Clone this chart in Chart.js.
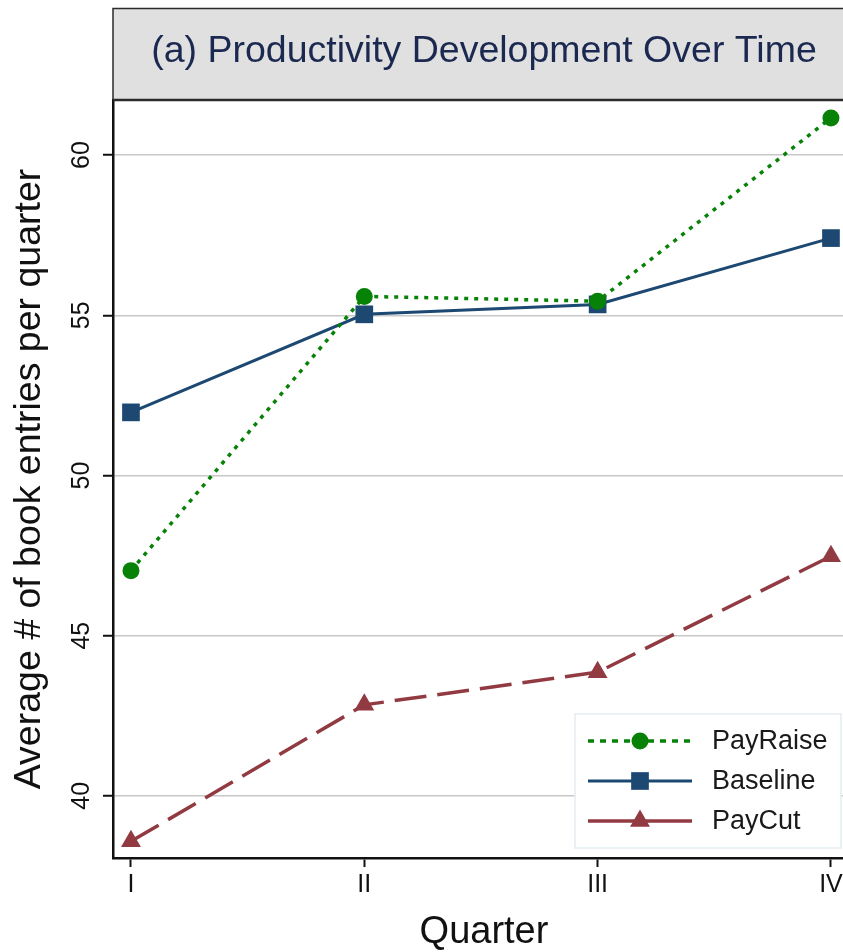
<!DOCTYPE html>
<html>
<head>
<meta charset="utf-8">
<script src="https://cdn.jsdelivr.net/npm/chart.js@4.4.1/dist/chart.umd.min.js"></script>
<style>
    html, body { margin: 0; padding: 0; background: #fff; overflow: hidden; }
    #chart { display: block; }
</style>
</head>
<body>
<canvas id="chart" width="870" height="952"></canvas>
<script>
// Productivity over quarters, three treatment groups

const quarters = ['I', 'II', 'III', 'IV'];
const quarterPos = [0, 1, 2, 3];
const yTicks = [40, 45, 50, 55, 60];

const payRaise = [47.03, 55.59, 55.44, 61.16];
const baseline = [51.97, 55.03, 55.34, 57.41];
const payCut = [38.58, 42.84, 43.86, 47.48];

const FONT = 'Arial, "Liberation Sans", Helvetica, sans-serif';

function toPoints(values) {
    return values.map((v, i) => ({ x: quarterPos[i], y: v }));
}

// grey title box above the plot
const titleBox = {
    id: 'titleBox',
    afterDraw(chart) {
        const ctx = chart.ctx;
        const area = chart.chartArea;
        ctx.save();
        ctx.fillStyle = '#e0e0e0';
        ctx.fillRect(area.left, 8, chart.width - area.left, area.top - 8);
        ctx.strokeStyle = '#2a2a2a';
        ctx.lineWidth = 1.5;
        ctx.beginPath();
        ctx.moveTo(chart.width, 8.5);
        ctx.lineTo(area.left, 8.5);
        ctx.lineTo(area.left, area.top);
        ctx.stroke();
        ctx.lineWidth = 2.5;
        ctx.beginPath();
        ctx.moveTo(area.left, area.top);
        ctx.lineTo(chart.width, area.top);
        ctx.stroke();
        ctx.fillStyle = '#1b2850';
        ctx.font = '37.5px ' + FONT;
        ctx.textAlign = 'center';
        ctx.textBaseline = 'middle';
        ctx.fillText('(a) Productivity Development Over Time', (area.left + area.right) / 2, 52);
        ctx.restore();
    }
};

// y tick labels drawn rotated, like the original
const rotatedYTicks = {
    id: 'rotatedYTicks',
    afterDraw(chart) {
        const ctx = chart.ctx;
        const scale = chart.scales.y;
        ctx.save();
        ctx.fillStyle = '#111';
        ctx.font = '25px ' + FONT;
        ctx.textAlign = 'center';
        ctx.textBaseline = 'middle';
        scale.ticks.forEach(t => {
            const y = scale.getPixelForValue(t.value);
            ctx.save();
            ctx.translate(82, y);
            ctx.rotate(-Math.PI / 2);
            ctx.fillText(String(t.value), 0, 0);
            ctx.restore();
        });
        ctx.restore();
    }
};

// legend box with line + marker samples
const lineLegend = {
    id: 'lineLegend',
    afterDraw(chart) {
        const ctx = chart.ctx;
        const bx = 575, by = 714, bw = 266, bh = 134;
        ctx.save();
        ctx.fillStyle = '#fff';
        ctx.fillRect(bx, by, bw, bh);
        ctx.strokeStyle = '#e3ecf0';
        ctx.lineWidth = 1.5;
        ctx.strokeRect(bx, by, bw, bh);

        chart.data.datasets.forEach((ds, i) => {
            const y = 741 + i * 40;
            ctx.save();
            ctx.strokeStyle = ds.borderColor;
            ctx.lineWidth = ds.borderWidth;
            ctx.setLineDash(ds.legendDash || []);
            ctx.beginPath();
            ctx.moveTo(588, y);
            ctx.lineTo(692, y);
            ctx.stroke();
            ctx.restore();

            ctx.fillStyle = ds.pointBackgroundColor;
            ctx.strokeStyle = ds.pointBorderColor;
            Chart.helpers.drawPoint(ctx, {
                pointStyle: ds.pointStyle,
                radius: ds.pointRadius,
                rotation: 0,
                borderWidth: 0
            }, 640, y);

            ctx.fillStyle = '#1a1a1a';
            ctx.font = '27px ' + FONT;
            ctx.textAlign = 'left';
            ctx.textBaseline = 'middle';
            ctx.fillText(ds.label, 712, y + 1);
        });
        ctx.restore();
    }
};

const ctx = document.getElementById('chart');

new Chart(ctx, {
    type: 'line',
    data: {
        datasets: [
            {
                label: 'PayRaise',
                data: toPoints(payRaise),
                borderColor: '#078207',
                borderWidth: 3.5,
                borderDash: [4, 6],
                legendDash: [6, 6],
                pointStyle: 'circle',
                pointRadius: 8.5,
                pointBackgroundColor: '#078207',
                pointBorderColor: '#078207',
                pointBorderWidth: 0,
                tension: 0,
                clip: false
            },
            {
                label: 'Baseline',
                data: toPoints(baseline),
                borderColor: '#1c4872',
                borderWidth: 3,
                pointStyle: 'rect',
                pointRadius: 12.5,
                pointBackgroundColor: '#1c4872',
                pointBorderColor: '#1c4872',
                pointBorderWidth: 0,
                tension: 0,
                clip: false
            },
            {
                label: 'PayCut',
                data: toPoints(payCut),
                borderColor: '#923a42',
                borderWidth: 3.5,
                borderDash: [32, 11],
                pointStyle: 'triangle',
                pointRadius: 11.5,
                pointBackgroundColor: '#923a42',
                pointBorderColor: '#923a42',
                pointBorderWidth: 0,
                tension: 0,
                clip: false
            }
        ]
    },
    options: {
        responsive: false,
        animation: false,
        layout: {
            autoPadding: false,
            padding: { left: 0, top: 100, right: 15, bottom: 0 }
        },
        plugins: {
            legend: { display: false },
            tooltip: { enabled: false },
            title: { display: false }
        },
        scales: {
            x: {
                type: 'linear',
                min: -0.077,
                max: 3.103,
                afterBuildTicks: scale => {
                    scale.ticks = quarterPos.map(v => ({ value: v }));
                },
                afterFit: scale => { scale.height = 94; },
                ticks: {
                    color: '#111',
                    font: { family: FONT, size: 25 },
                    padding: 3,
                    maxRotation: 0,
                    callback: (value) => quarters[value]
                },
                grid: {
                    drawOnChartArea: false,
                    drawTicks: true,
                    tickLength: 9,
                    tickColor: '#111',
                    tickWidth: 2
                },
                border: { display: true, color: '#111', width: 2.5 },
                title: {
                    display: true,
                    text: 'Quarter',
                    color: '#111',
                    font: { family: FONT, size: 38, lineHeight: 1.0 },
                    padding: { top: 0, bottom: 0 }
                }
            },
            y: {
                type: 'linear',
                min: 38.06,
                max: 61.72,
                afterBuildTicks: scale => {
                    scale.ticks = yTicks.map(v => ({ value: v }));
                },
                afterFit: scale => { scale.width = 113; },
                ticks: { display: false },
                grid: {
                    color: '#c8c8c8',
                    lineWidth: 1.5,
                    drawTicks: true,
                    tickLength: 10,
                    tickColor: '#111',
                    tickWidth: 2
                },
                border: { display: true, color: '#111', width: 2.5 },
                title: {
                    display: true,
                    text: 'Average # of book entries per quarter',
                    color: '#111',
                    font: { family: FONT, size: 37.5 },
                    padding: { top: 7, bottom: 0 }
                }
            }
        }
    },
    plugins: [titleBox, rotatedYTicks, lineLegend]
});
</script>
</body>
</html>
